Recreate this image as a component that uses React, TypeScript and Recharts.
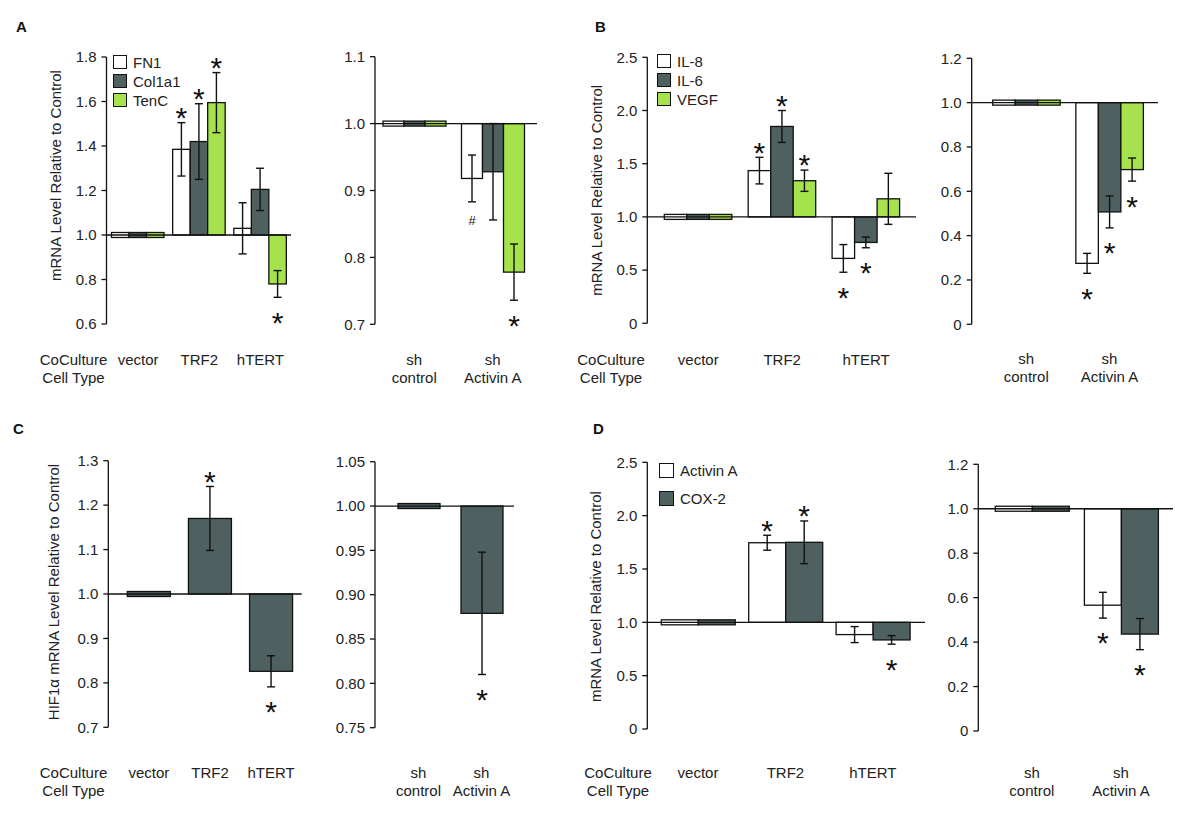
import React from 'react';
import { BarChart, Bar, XAxis, YAxis, ReferenceLine, ErrorBar, LabelList, Legend } from 'recharts';

const FONT = '"Liberation Sans", Arial, Helvetica, sans-serif';
const INK = '#111';
const WHITE = '#ffffff';
const DARK = '#4f6061';
const GREEN = '#a5e24b';

// categories
const coCultureTypes = ['vector', 'TRF2', 'hTERT'];
const shTypes = ['sh control', 'sh Activin A'];

// A - matrix genes
const matrixGenes = ['FN1', 'Col1a1', 'TenC'];
const matrixCoMeans = [[1.0, 1.385, 1.03], [1.0, 1.42, 1.205], [1.0, 1.595, 0.78]];
const matrixCoErrs = [[null, 0.12, 0.115], [null, 0.17, 0.095], [null, 0.135, 0.06]];
const matrixCoMarks = [['', '*', ''], ['', '*', ''], ['', '*', '*']];
const matrixShMeans = [[1.0, 0.918], [1.0, 0.928], [1.0, 0.778]];
const matrixShErrs = [[null, 0.035], [null, 0.072], [null, 0.042]];
const matrixShMarks = [['', '#'], ['', ''], ['', '*']];

// B - cytokines
const cytokines = ['IL-8', 'IL-6', 'VEGF'];
const cytoCoMeans = [[1.0, 1.435, 0.61], [1.0, 1.85, 0.76], [1.0, 1.34, 1.17]];
const cytoCoErrs = [[null, 0.125, 0.13], [null, 0.15, 0.05], [null, 0.1, 0.24]];
const cytoCoMarks = [['', '*', '*'], ['', '*', '*'], ['', '*', '']];
const cytoShMeans = [[1.0, 0.275], [1.0, 0.507], [1.0, 0.698]];
const cytoShErrs = [[null, 0.045], [null, 0.072], [null, 0.052]];
const cytoShMarks = [['', '*'], ['', '*'], ['', '*']];

// C - HIF1a
const hifGenes = ['HIF1α'];
const hifCoMeans = [[1.0, 1.17, 0.826]];
const hifCoErrs = [[null, 0.072, 0.035]];
const hifCoMarks = [['', '*', '*']];
const hifShMeans = [[1.0, 0.879]];
const hifShErrs = [[null, 0.069]];
const hifShMarks = [['', '*']];

// D - Activin A / COX-2
const factorGenes = ['Activin A', 'COX-2'];
const factorCoMeans = [[1.0, 1.746, 0.885], [1.0, 1.75, 0.835]];
const factorCoErrs = [[null, 0.07, 0.075], [null, 0.2, 0.04]];
const factorCoMarks = [['', '*', ''], ['', '*', '*']];
const factorShMeans = [[1.0, 0.566], [1.0, 0.436]];
const factorShErrs = [[null, 0.058], [null, 0.07]];
const factorShMarks = [['', '*'], ['', '*']];

// y ticks
const ticksA1 = [0.6, 0.8, 1.0, 1.2, 1.4, 1.6, 1.8];
const ticksA2 = [0.7, 0.8, 0.9, 1.0, 1.1];
const ticksB1 = [0, 0.5, 1.0, 1.5, 2.0, 2.5];
const ticksB2 = [0, 0.2, 0.4, 0.6, 0.8, 1.0, 1.2];
const ticksC1 = [0.7, 0.8, 0.9, 1.0, 1.1, 1.2, 1.3];
const ticksC2 = [0.75, 0.8, 0.85, 0.9, 0.95, 1.0, 1.05];
const ticksD1 = [0, 0.5, 1.0, 1.5, 2.0, 2.5];
const ticksD2 = [0, 0.2, 0.4, 0.6, 0.8, 1.0, 1.2];

const yTitle = 'mRNA Level Relative to Control';
const hifTitle = 'HIF1α mRNA Level Relative to Control';

const buildRows = (cats: string[], means: number[][], errs: (number | null)[][], marks: string[][]) =>
  cats.map((c, ci) => {
    const row: any = { cat: c };
    means.forEach((s, si) => {
      row['v' + si] = s[ci];
      row['e' + si] = errs[si][ci];
      row['m' + si] = marks[si][ci];
    });
    return row;
  });

// bars start at 1.0; controls (=1.0) drawn as a thin strip on the baseline
const BarShape = (p: any) => {
  const { x, y, width, height, fill } = p;
  let top = Math.min(y, y + height);
  let h = Math.abs(height);
  if (!(h >= 4)) {
    const mid = top + (h || 0) / 2;
    top = mid - 2.5;
    h = 5;
  }
  return <rect x={x} y={top} width={width} height={h} fill={fill} stroke={INK} strokeWidth={1.3} />;
};

type PanelProps = {
  box: { left: number; top: number; width: number; height: number };
  plot: { x0: number; x1: number; y0: number; y1: number };
  cats: string[];
  names: string[];
  colors: string[];
  means: number[][];
  errs: (number | null)[][];
  marks: string[][];
  ticks: number[];
  decimals: number;
  barSize: number;
  pad: [number, number];
  tickOff: number;
  yLabel?: string;
  yLabelX?: number;
  yLabelDy?: number;
  coCultureX?: number;
  legend?: { left: number; top: number; pitch: number; sq: number };
};

const Panel = (P: PanelProps) => {
  const { box, plot } = P;
  const yAxisW = 30;
  const xAxisH = box.top + box.height - plot.y1;
  const margin = {
    top: plot.y0 - box.top,
    left: plot.x0 - box.left - yAxisW,
    right: box.left + box.width - plot.x1,
    bottom: 0,
  };
  const rows = buildRows(P.cats, P.means, P.errs, P.marks);

  const markContent = (si: number) => (p: any) => {
    const vb = p.viewBox ?? p;
    const row = rows[p.index];
    if (!row) return null;
    const mark = row['m' + si];
    if (!mark) return null;
    const v = row['v' + si];
    const e = row['e' + si] ?? 0;
    const top = Math.min(vb.y, vb.y + vb.height);
    const bot = Math.max(vb.y, vb.y + vb.height);
    const ppu = (bot - top) / Math.abs(v - 1);
    const cx = vb.x + vb.width / 2;
    const fs = mark === '*' ? 30 : 13;
    const lift = mark === '*' ? 0.58 : 0.36;
    const yc = v > 1 ? top - e * ppu - 12 : bot + e * ppu + 18;
    return (
      <text x={cx} y={yc + lift * fs} textAnchor="middle" fontSize={fs} fontFamily={FONT} fill={INK}>
        {mark}
      </text>
    );
  };

  const CatTick = (p: any) => {
    const label: string = p.payload.value;
    const sp = label.indexOf(' ');
    const lines = label.startsWith('sh ') ? [label.slice(0, sp), label.slice(sp + 1)] : [label];
    return (
      <text x={p.x} y={p.y + P.tickOff} textAnchor="middle" fontSize={15} fontFamily={FONT} fill="#222">
        {lines.map((l, i) => (
          <tspan key={i} x={p.x} dy={i === 0 ? 0 : 18}>
            {l}
          </tspan>
        ))}
      </text>
    );
  };

  const legendContent = () => {
    const lg = P.legend!;
    return (
      <div style={{ fontFamily: FONT, fontSize: 15, color: '#222', lineHeight: 1 }}>
        {P.names.map((n, i) => (
          <div key={n} style={{ display: 'flex', alignItems: 'center', height: lg.pitch, whiteSpace: 'nowrap' }}>
            <span
              style={{
                display: 'inline-block',
                width: lg.sq,
                height: lg.sq,
                background: P.colors[i],
                border: `1.3px solid ${INK}`,
                boxSizing: 'border-box',
                marginRight: 6,
              }}
            />
            {n}
          </div>
        ))}
      </div>
    );
  };

  return (
    <div style={{ position: 'absolute', left: box.left, top: box.top }}>
      <BarChart width={box.width} height={box.height} data={rows} margin={margin} barGap={0} barCategoryGap={0}>
        <XAxis
          dataKey="cat"
          type="category"
          axisLine={false}
          tickLine={false}
          tickSize={0}
          tickMargin={0}
          height={xAxisH}
          interval={0}
          padding={{ left: P.pad[0], right: P.pad[1] }}
          tick={CatTick}
          label={
            P.coCultureX !== undefined
              ? (lp: any) => {
                  const vb = lp.viewBox;
                  const tx = P.coCultureX! - box.left;
                  const ty = vb.y + P.tickOff;
                  return (
                    <text x={tx} y={ty} textAnchor="middle" fontSize={15} fontFamily={FONT} fill="#222">
                      <tspan x={tx}>CoCulture</tspan>
                      <tspan x={tx} dy={18}>
                        Cell Type
                      </tspan>
                    </text>
                  );
                }
              : undefined
          }
        />
        <YAxis
          type="number"
          width={yAxisW}
          domain={[P.ticks[0], P.ticks[P.ticks.length - 1]]}
          ticks={P.ticks}
          interval={0}
          allowDataOverflow
          axisLine={{ stroke: INK, strokeWidth: 1.3 }}
          tickLine={{ stroke: INK, strokeWidth: 1.3 }}
          tickSize={5}
          tickMargin={5}
          tick={{ fontSize: 15, fill: '#222', fontFamily: FONT }}
          tickFormatter={(v: number) => (v === 0 ? '0' : v.toFixed(P.decimals))}
          label={
            P.yLabel
              ? (lp: any) => {
                  const vb = lp.viewBox;
                  const lx = P.yLabelX! - box.left;
                  const ly = vb.y + vb.height / 2 + (P.yLabelDy ?? 0);
                  return (
                    <text
                      transform={`translate(${lx},${ly}) rotate(-90)`}
                      textAnchor="middle"
                      dominantBaseline="central"
                      fontSize={15}
                      fontFamily={FONT}
                      fill="#222"
                    >
                      {P.yLabel}
                    </text>
                  );
                }
              : undefined
          }
        />
        <ReferenceLine y={1} stroke={INK} strokeWidth={1.3} />
        {P.names.map((n, si) => (
          <Bar
            key={n}
            name={n}
            dataKey={(d: any) => [1, d['v' + si]]}
            fill={P.colors[si]}
            barSize={P.barSize}
            shape={BarShape}
            isAnimationActive={false}
          >
            <ErrorBar dataKey={'e' + si} width={4} stroke={INK} strokeWidth={1.4} direction="y" isAnimationActive={false} />
            <LabelList dataKey={'m' + si} content={markContent(si)} />
          </Bar>
        ))}
        {P.legend && (
          <Legend
            layout="horizontal"
            verticalAlign="middle"
            align="center"
            content={legendContent}
            wrapperStyle={{
              left: P.legend.left - box.left,
              top: P.legend.top - box.top - (P.legend.pitch - P.legend.sq) / 2,
              width: 'auto',
              height: 'auto',
            }}
          />
        )}
      </BarChart>
    </div>
  );
};

const panelLetters = [
  { t: 'A', x: 16, y: 32 },
  { t: 'B', x: 595, y: 32 },
  { t: 'C', x: 13, y: 434 },
  { t: 'D', x: 593, y: 434 },
];

export default function App() {
  return (
    <div style={{ position: 'absolute', left: 0, top: 0, width: 1200, height: 821, background: '#fff', overflow: 'hidden' }}>
      <Panel
        box={{ left: 0, top: 0, width: 300, height: 410 }}
        plot={{ x0: 106.5, x1: 291, y0: 57, y1: 324 }}
        cats={coCultureTypes}
        names={matrixGenes}
        colors={[WHITE, DARK, GREEN]}
        means={matrixCoMeans}
        errs={matrixCoErrs}
        marks={matrixCoMarks}
        ticks={ticksA1}
        decimals={1}
        barSize={17.5}
        pad={[1, 0]}
        tickOff={41}
        yLabel={yTitle}
        yLabelX={55}
        yLabelDy={-15}
        coCultureX={73.5}
        legend={{ left: 113, top: 55, pitch: 19, sq: 14 }}
      />
      <Panel
        box={{ left: 300, top: 0, width: 260, height: 410 }}
        plot={{ x0: 375, x1: 537, y0: 56.7, y1: 324.3 }}
        cats={shTypes}
        names={matrixGenes}
        colors={[WHITE, DARK, GREEN]}
        means={matrixShMeans}
        errs={matrixShErrs}
        marks={matrixShMarks}
        ticks={ticksA2}
        decimals={1}
        barSize={21}
        pad={[0, 5]}
        tickOff={41}
      />
      <Panel
        box={{ left: 565, top: 0, width: 357, height: 410 }}
        plot={{ x0: 647.3, x1: 916, y0: 57.3, y1: 323.3 }}
        cats={coCultureTypes}
        names={cytokines}
        colors={[WHITE, DARK, GREEN]}
        means={cytoCoMeans}
        errs={cytoCoErrs}
        marks={cytoCoMarks}
        ticks={ticksB1}
        decimals={1}
        barSize={22.5}
        pad={[9, 8]}
        tickOff={42}
        yLabel={yTitle}
        yLabelX={596.7}
        coCultureX={611}
        legend={{ left: 657, top: 54, pitch: 19, sq: 14 }}
      />
      <Panel
        box={{ left: 925, top: 0, width: 275, height: 410 }}
        plot={{ x0: 971.7, x1: 1158, y0: 58.3, y1: 324.3 }}
        cats={shTypes}
        names={cytokines}
        colors={[WHITE, DARK, GREEN]}
        means={cytoShMeans}
        errs={cytoShErrs}
        marks={cytoShMarks}
        ticks={ticksB2}
        decimals={1}
        barSize={22.5}
        pad={[13, 7]}
        tickOff={40}
      />
      <Panel
        box={{ left: 0, top: 410, width: 305, height: 411 }}
        plot={{ x0: 108.3, x1: 301.7, y0: 460.7, y1: 727.3 }}
        cats={coCultureTypes}
        names={hifGenes}
        colors={[DARK]}
        means={hifCoMeans}
        errs={hifCoErrs}
        marks={hifCoMarks}
        ticks={ticksC1}
        decimals={1}
        barSize={43}
        pad={[10, 0]}
        tickOff={51}
        yLabel={hifTitle}
        yLabelX={53.3}
        yLabelDy={-2}
        coCultureX={73.5}
      />
      <Panel
        box={{ left: 305, top: 410, width: 255, height: 411 }}
        plot={{ x0: 375, x1: 514, y0: 461.7, y1: 727.7 }}
        cats={shTypes}
        names={hifGenes}
        colors={[DARK]}
        means={hifShMeans}
        errs={hifShErrs}
        marks={hifShMarks}
        ticks={ticksC2}
        decimals={2}
        barSize={42}
        pad={[12, 1]}
        tickOff={50}
      />
      <Panel
        box={{ left: 565, top: 410, width: 365, height: 411 }}
        plot={{ x0: 647.3, x1: 925, y0: 462.3, y1: 729 }}
        cats={coCultureTypes}
        names={factorGenes}
        colors={[WHITE, DARK]}
        means={factorCoMeans}
        errs={factorCoErrs}
        marks={factorCoMarks}
        ticks={ticksD1}
        decimals={1}
        barSize={37}
        pad={[7, 8.5]}
        tickOff={49}
        yLabel={yTitle}
        yLabelX={595}
        yLabelDy={1}
        coCultureX={618}
        legend={{ left: 659, top: 463, pitch: 28, sq: 15 }}
      />
      <Panel
        box={{ left: 930, top: 410, width: 270, height: 411 }}
        plot={{ x0: 978.3, x1: 1173, y0: 464.3, y1: 731 }}
        cats={shTypes}
        names={factorGenes}
        colors={[WHITE, DARK]}
        means={factorShMeans}
        errs={factorShErrs}
        marks={factorShMarks}
        ticks={ticksD2}
        decimals={1}
        barSize={37}
        pad={[9, 7.5]}
        tickOff={47}
      />
      <svg width={1200} height={821} style={{ position: 'absolute', left: 0, top: 0, pointerEvents: 'none' }}>
        {panelLetters.map((l) => (
          <text key={l.t} x={l.x} y={l.y} fontSize={15} fontWeight="bold" fontFamily={FONT} fill={INK}>
            {l.t}
          </text>
        ))}
      </svg>
    </div>
  );
}
